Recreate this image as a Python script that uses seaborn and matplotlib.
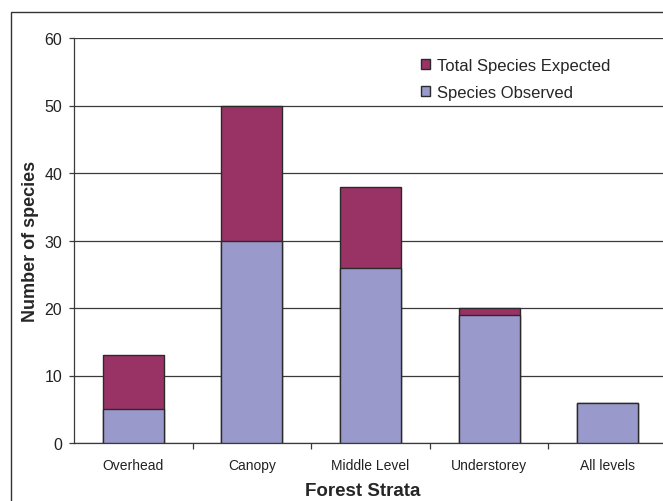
import matplotlib
matplotlib.use("Agg")
import matplotlib.pyplot as plt
from matplotlib.patches import Rectangle, Patch
import seaborn as sns
import pandas as pd

# Species counts per forest stratum
strata = ["Overhead", "Canopy", "Middle Level", "Understorey", "All levels"]
observed = [5, 30, 26, 19, 6]
expected = [13, 50, 38, 20, 6]
y_ticks = [0, 10, 20, 30, 40, 50, 60]

df = pd.DataFrame({"stratum": strata, "observed": observed, "expected": expected})

sns.set_theme(style="white")
plt.rcParams["font.family"] = ["Liberation Sans", "DejaVu Sans"]

plum = "#993366"
lilac = "#9999CC"
edge = "#2a2a2a"

fig = plt.figure(figsize=(6.63, 5.02), dpi=100)
ax = fig.add_axes([74 / 663, 58 / 502, 593 / 663, 405 / 502])

sns.barplot(data=df, x="stratum", y="expected", order=strata, color=plum,
            saturation=1, width=0.515, edgecolor=edge, linewidth=1.0, ax=ax,
            zorder=3)
sns.barplot(data=df, x="stratum", y="observed", order=strata, color=lilac,
            saturation=1, width=0.515, edgecolor=edge, linewidth=1.0, ax=ax,
            zorder=4)

ax.set_xlim(-0.5, len(strata) - 0.5)
ax.set_ylim(0, 60)
ax.set_yticks(y_ticks)
ax.yaxis.grid(True, color="#3a3a3a", linewidth=0.9)
ax.set_axisbelow(True)

for side in ("top", "right"):
    ax.spines[side].set_visible(False)
for side in ("left", "bottom"):
    ax.spines[side].set_color("#3a3a3a")
    ax.spines[side].set_linewidth(0.9)

# category ticks sit between the bars
ax.set_xticks(range(len(strata)))
ax.set_xticklabels(strata, fontsize=10, color="#222222")
ax.set_xticks([i + 0.5 for i in range(len(strata))], minor=True)
ax.tick_params(axis="x", which="major", length=0, pad=11)
ax.tick_params(axis="x", which="minor", length=4, width=0.9, color="#3a3a3a",
               direction="out", bottom=True)
ax.tick_params(axis="y", length=3.6, width=0.9, color="#3a3a3a", direction="out",
               left=True, labelsize=11.5, labelcolor="#222222", pad=5)

ax.set_xlabel("Forest Strata", fontsize=13.5, fontweight="bold")
ax.set_ylabel("Number of species", fontsize=13, fontweight="bold")
ax.xaxis.set_label_coords((363 - 74) / 593, -(483 - 444) / 405)
ax.yaxis.set_label_coords(-(74 - 39) / 593, 0.5)

handles = [Patch(facecolor=plum, edgecolor=edge, linewidth=1.0),
           Patch(facecolor=lilac, edgecolor=edge, linewidth=1.0)]
ax.legend(handles, ["Total Species Expected", "Species Observed"],
          loc="upper left", bbox_to_anchor=((409 - 74) / 593, (444 - 47) / 405),
          frameon=False, fontsize=12, handlelength=0.58, handleheight=0.58,
          handletextpad=0.4, labelspacing=0.75, borderpad=0.2)

# chart-area border
fig.patches.append(Rectangle((11 / 663, -0.1), 1.2, (502 - 13) / 502 + 0.1,
                             transform=fig.transFigure, fill=False,
                             edgecolor="#333333", linewidth=1.0))

fig.savefig("out.png", dpi=100)
